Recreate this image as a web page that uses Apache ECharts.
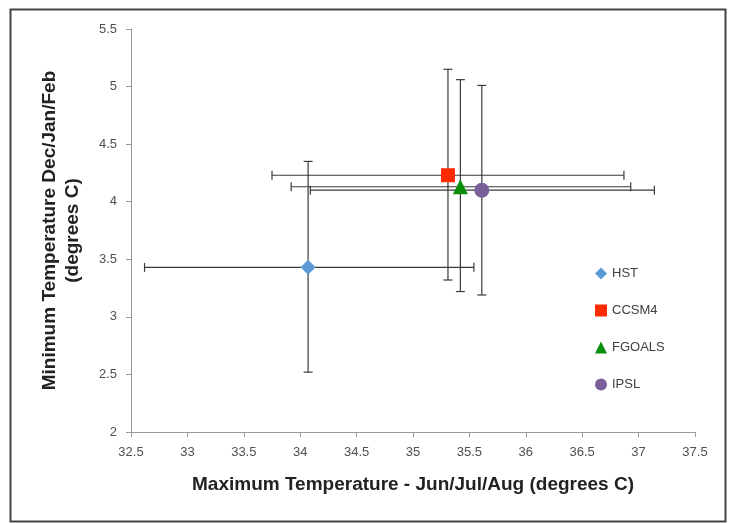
<!DOCTYPE html>
<html><head><meta charset="utf-8">
<script src="https://cdn.jsdelivr.net/npm/echarts@6/dist/echarts.min.js"></script>
<style>html,body{margin:0;padding:0;background:#fff}#c{width:730px;height:523px}</style>
</head><body><div id="c"></div>
<script>
const names = ['HST', 'CCSM4', 'FGOALS', 'IPSL'];
const xVals = [34.07, 35.31, 35.42, 35.61];
const yVals = [3.43, 4.23, 4.13, 4.10];
const xLow  = [32.62, 33.75, 33.92, 34.09];
const xHigh = [35.54, 36.87, 36.93, 37.14];
const yLow  = [2.52, 3.32, 3.22, 3.19];
const yHigh = [4.35, 5.15, 5.06, 5.01];
const xTicks = [32.5, 33, 33.5, 34, 34.5, 35, 35.5, 36, 36.5, 37, 37.5];
const yTicks = [2, 2.5, 3, 3.5, 4, 4.5, 5, 5.5];

const colors = ['#5B9BD5', '#FF2A00', '#0A8F0A', '#7A5F98'];
const symbols = ['diamond', 'rect', 'triangle', 'circle'];
const sizes = [15, 14, 15, 15];
const font = "'Liberation Sans', 'Open Sans', sans-serif";

const chart = echarts.init(document.getElementById('c'), null, {renderer: 'canvas'});
const cap = 4.5;
const errSeries = {
  type: 'custom',
  name: 'err',
  z: 2,
  silent: true,
  encode: {x: [0, 2, 3], y: [1, 4, 5]},
  data: names.map((n, i) => [xVals[i], yVals[i], xLow[i], xHigh[i], yLow[i], yHigh[i]]),
  renderItem: function (params, api) {
    const l = api.coord([api.value(2), api.value(1)]);
    const r = api.coord([api.value(3), api.value(1)]);
    const b = api.coord([api.value(0), api.value(4)]);
    const t = api.coord([api.value(0), api.value(5)]);
    const st = {stroke: '#3a3a3a', lineWidth: 1.2, fill: null};
    const L = (x1, y1, x2, y2) => ({type: 'line', shape: {x1, y1, x2, y2}, style: st});
    return {type: 'group', children: [
      L(l[0], l[1], r[0], r[1]),
      L(l[0], l[1] - cap, l[0], l[1] + cap),
      L(r[0], r[1] - cap, r[0], r[1] + cap),
      L(b[0], b[1], t[0], t[1]),
      L(b[0] - cap, b[1], b[0] + cap, b[1]),
      L(t[0] - cap, t[1], t[0] + cap, t[1])
    ]};
  }
};

const scatterSeries = names.map((n, i) => ({
  type: 'scatter',
  name: n,
  z: 5,
  symbol: symbols[i],
  symbolSize: sizes[i],
  itemStyle: {color: colors[i], opacity: 1},
  data: [[xVals[i], yVals[i]]]
}));

chart.setOption({
  animation: false,
  backgroundColor: '#fff',
  grid: {left: 131, right: 35, top: 29, bottom: 91, containLabel: false},
  xAxis: {
    type: 'value', min: 32.5, max: 37.5, interval: 0.5,
    splitLine: {show: false},
    axisLine: {show: true, onZero: false, lineStyle: {color: '#999', width: 1}},
    axisTick: {show: true, length: 5, lineStyle: {color: '#999'}},
    axisLabel: {color: '#505050', fontSize: 13, fontFamily: font, margin: 14,
      formatter: v => xTicks.includes(v) ? String(v) : ''},
    name: 'Maximum Temperature - Jun/Jul/Aug (degrees C)',
    nameLocation: 'middle', nameGap: 43,
    nameTextStyle: {fontSize: 19, fontWeight: 'bold', color: '#222', fontFamily: font}
  },
  yAxis: {
    type: 'value', min: 2, max: 5.5, interval: 0.5,
    splitLine: {show: false},
    axisLine: {show: true, onZero: false, lineStyle: {color: '#999', width: 1}},
    axisTick: {show: true, length: 5, lineStyle: {color: '#999'}},
    axisLabel: {color: '#505050', fontSize: 13, fontFamily: font, margin: 14,
      formatter: v => yTicks.includes(v) ? String(v) : ''},
    name: 'Minimum Temperature Dec/Jan/Feb\n(degrees C)',
    nameLocation: 'middle', nameGap: 47,
    nameTextStyle: {fontSize: 19, fontWeight: 'bold', color: '#222', fontFamily: font, lineHeight: 23}
  },
  legend: {
    orient: 'vertical', left: 590, top: 262,
    itemWidth: 12, itemHeight: 12, itemGap: 24,
    data: names,
    textStyle: {color: '#404040', fontSize: 13, fontFamily: font, padding: [0, 0, 0, 0]}
  },
  graphic: [{
    type: 'rect', left: 8, top: 7, z: -10,
    shape: {width: 715, height: 512},
    style: {fill: 'none', stroke: '#444', lineWidth: 2}
  }],
  series: [errSeries].concat(scatterSeries)
});
</script></body></html>
